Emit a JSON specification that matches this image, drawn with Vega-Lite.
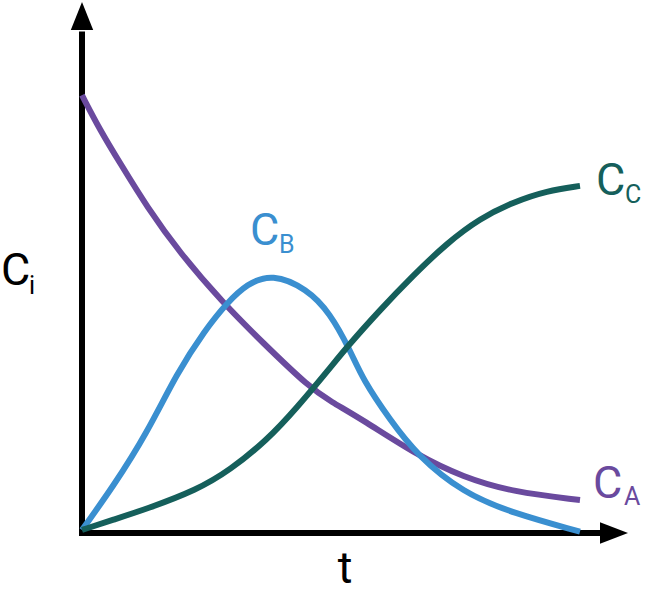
{
  "$schema": "https://vega.github.io/schema/vega-lite/v6.json",
  "width": 645,
  "height": 595,
  "autosize": "none",
  "padding": 0,
  "background": "white",
  "config": {"view": {"stroke": null}},
  "datasets": {
    "curves": [
      {"series": "A", "t": 0, "c": 9.95},
      {"series": "A", "t": 0.36, "c": 9.16},
      {"series": "A", "t": 0.76, "c": 8.41},
      {"series": "A", "t": 1.3, "c": 7.41},
      {"series": "A", "t": 1.96, "c": 6.36},
      {"series": "A", "t": 2.82, "c": 5.23},
      {"series": "A", "t": 3.62, "c": 4.32},
      {"series": "A", "t": 4.56, "c": 3.3},
      {"series": "A", "t": 4.96, "c": 3.0},
      {"series": "A", "t": 5.62, "c": 2.57},
      {"series": "A", "t": 6.7, "c": 1.77},
      {"series": "A", "t": 7.62, "c": 1.27},
      {"series": "A", "t": 8.62, "c": 0.93},
      {"series": "A", "t": 9.96, "c": 0.75},
      {"series": "B", "t": 0, "c": 0.07},
      {"series": "B", "t": 0.62, "c": 1.05},
      {"series": "B", "t": 1.3, "c": 2.27},
      {"series": "B", "t": 1.9, "c": 3.64},
      {"series": "B", "t": 2.46, "c": 4.61},
      {"series": "B", "t": 2.9, "c": 5.23},
      {"series": "B", "t": 3.3, "c": 5.66},
      {"series": "B", "t": 3.8, "c": 5.9},
      {"series": "B", "t": 4.5, "c": 5.55},
      {"series": "B", "t": 4.96, "c": 5.0},
      {"series": "B", "t": 5.36, "c": 4.16},
      {"series": "B", "t": 5.62, "c": 3.48},
      {"series": "B", "t": 6.16, "c": 2.57},
      {"series": "B", "t": 6.7, "c": 1.77},
      {"series": "B", "t": 7.62, "c": 0.91},
      {"series": "B", "t": 8.62, "c": 0.45},
      {"series": "B", "t": 9.96, "c": 0.03},
      {"series": "C", "t": 0, "c": 0.07},
      {"series": "C", "t": 0.62, "c": 0.3},
      {"series": "C", "t": 1.3, "c": 0.55},
      {"series": "C", "t": 2.3, "c": 0.98},
      {"series": "C", "t": 2.96, "c": 1.43},
      {"series": "C", "t": 3.7, "c": 2.11},
      {"series": "C", "t": 4.3, "c": 2.85},
      {"series": "C", "t": 4.96, "c": 3.75},
      {"series": "C", "t": 5.3, "c": 4.23},
      {"series": "C", "t": 5.96, "c": 5.07},
      {"series": "C", "t": 6.62, "c": 5.85},
      {"series": "C", "t": 7.3, "c": 6.59},
      {"series": "C", "t": 7.96, "c": 7.15},
      {"series": "C", "t": 8.62, "c": 7.52},
      {"series": "C", "t": 9.3, "c": 7.78},
      {"series": "C", "t": 9.96, "c": 7.89}
    ],
    "labels": [
      {"series": "i", "kind": "main", "text": "C", "t": -1.62, "c": 5.636},
      {"series": "i", "kind": "sub", "text": "i", "t": -1.06, "c": 5.432},
      {"series": "B", "kind": "main", "text": "C", "t": 3.36, "c": 6.545},
      {"series": "B", "kind": "sub", "text": "B", "t": 3.94, "c": 6.364},
      {"series": "C", "kind": "main", "text": "C", "t": 10.28, "c": 7.682},
      {"series": "C", "kind": "sub", "text": "C", "t": 10.86, "c": 7.5},
      {"series": "A", "kind": "main", "text": "C", "t": 10.22, "c": 0.795},
      {"series": "A", "kind": "sub", "text": "A", "t": 10.84, "c": 0.636}
    ],
    "axes": [
      {"t": 0, "c": -0.07, "t2": 0, "c2": 11.4},
      {"t": -0.06, "c": 0, "t2": 10.45, "c2": 0}
    ],
    "heads": [
      {"dir": "up", "t": 0, "c": 11.75},
      {"dir": "right", "t": 10.64, "c": 0}
    ]
  },
  "layer": [
    {
      "data": {"name": "axes"},
      "mark": {"type": "rule", "strokeWidth": 6, "color": "black", "strokeCap": "butt"},
      "encoding": {
        "x": {"field": "t", "type": "quantitative", "scale": {"domain": [-1.64, 11.26], "nice": false, "zero": false}, "axis": null},
        "y": {"field": "c", "type": "quantitative", "scale": {"domain": [-1.409, 12.114], "nice": false, "zero": false}, "axis": null},
        "x2": {"field": "t2"},
        "y2": {"field": "c2"}
      }
    },
    {
      "data": {"name": "heads"},
      "transform": [{"filter": "datum.dir === 'up'"}],
      "mark": {"type": "point", "shape": "M0,-1L0.8,1L-0.8,1Z", "size": 784, "filled": true, "color": "black", "opacity": 1, "strokeWidth": 0},
      "encoding": {
        "x": {"field": "t", "type": "quantitative"},
        "y": {"field": "c", "type": "quantitative"}
      }
    },
    {
      "data": {"name": "heads"},
      "transform": [{"filter": "datum.dir === 'right'"}],
      "mark": {"type": "point", "shape": "M1,0L-1,0.76L-1,-0.76Z", "size": 784, "filled": true, "color": "black", "opacity": 1, "strokeWidth": 0},
      "encoding": {
        "x": {"field": "t", "type": "quantitative"},
        "y": {"field": "c", "type": "quantitative"}
      }
    },
    {
      "data": {"name": "curves"},
      "mark": {"type": "line", "strokeWidth": 6, "interpolate": "basis", "strokeCap": "butt"},
      "encoding": {
        "x": {"field": "t", "type": "quantitative"},
        "y": {"field": "c", "type": "quantitative"},
        "detail": {"field": "series"},
        "order": {"field": "t", "type": "quantitative"},
        "color": {"field": "series", "type": "nominal", "scale": {"domain": ["A", "B", "C", "i", "t"], "range": ["#6a4a9e", "#3a8fd0", "#155f5b", "#000000", "#000000"]}, "legend": null}
      }
    },
    {
      "data": {"name": "labels"},
      "transform": [{"filter": "datum.kind === 'main'"}],
      "mark": {"type": "text", "font": "Roboto", "fontSize": 45, "align": "left", "baseline": "alphabetic"},
      "encoding": {
        "x": {"field": "t", "type": "quantitative"},
        "y": {"field": "c", "type": "quantitative"},
        "text": {"field": "text"},
        "color": {"field": "series", "type": "nominal", "legend": null}
      }
    },
    {
      "data": {"name": "labels"},
      "transform": [{"filter": "datum.kind === 'sub'"}],
      "mark": {"type": "text", "font": "Roboto", "fontSize": 25, "align": "left", "baseline": "alphabetic"},
      "encoding": {
        "x": {"field": "t", "type": "quantitative"},
        "y": {"field": "c", "type": "quantitative"},
        "text": {"field": "text"},
        "color": {"field": "series", "type": "nominal", "legend": null}
      }
    },
    {
      "data": {"values": [{"series": "t", "text": "t", "t": 5.26, "c": -1.136}]},
      "mark": {"type": "text", "font": "Roboto", "fontSize": 45, "align": "center", "baseline": "alphabetic"},
      "encoding": {
        "x": {"field": "t", "type": "quantitative"},
        "y": {"field": "c", "type": "quantitative"},
        "text": {"field": "text"},
        "color": {"field": "series", "type": "nominal", "legend": null}
      }
    }
  ]
}
